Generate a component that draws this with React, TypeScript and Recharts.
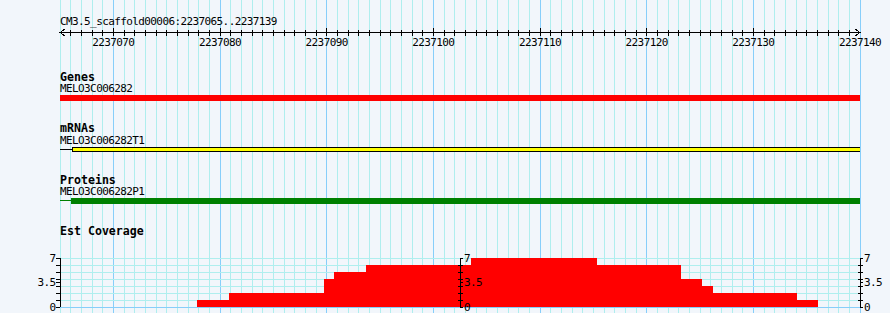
import React from 'react';
import { ComposedChart, BarChart, Bar, Area, Line, XAxis, YAxis, ReferenceLine } from 'recharts';

const W = 890;
const H = 313;
const VIEW_START = 2237065;
const VIEW_END = 2237140;
const DOMAIN: [number, number] = [VIEW_START, VIEW_END];
const VIEW_LABEL = 'CM3.5_scaffold00006:2237065..2237139';

const rulerTicks = Array.from({ length: VIEW_END - VIEW_START + 1 }, (_, i) => VIEW_START + i);
const majorTicks = rulerTicks.filter((v) => v % 10 === 0);
const minorTicks = rulerTicks.filter((v) => v % 10 !== 0);

const trackTitles = ['Genes', 'mRNAs', 'Proteins', 'Est Coverage'];
const featureNames = ['MELO3C006282', 'MELO3C006282T1', 'MELO3C006282P1'];

const geneRange = [2237065, 2237140];
const mrnaLead = [2237065, 2237066.2];
const mrnaExon = [2237066.2, 2237140];
const proteinLead = [2237065, 2237066];
const proteinCds = [2237066, 2237140];

const covStart = [
  2237077.85, 2237080.85, 2237089.75, 2237090.7, 2237093.7, 2237103.55,
  2237115.35, 2237123.2, 2237125.2, 2237126.2, 2237134.1, 2237136.05,
];
const covValue = [1, 2, 4, 5, 6, 7, 6, 4, 3, 2, 1, 0];
const covTicks = [0, 1, 2, 3, 3.5, 4, 5, 6, 7];
const covLabels = [0, 3.5, 7];
const covGrid = [0, 1, 2, 3, 4, 5, 6, 7];

const covData = covStart.map((x, i) => ({ x, v: covValue[i] }));

const BG = '#f2f6fb';
const MINOR = '#afeeee';
const MAJOR = '#87cefa';
const FONT = '"DejaVu Sans Mono", monospace';

const txt = { fontFamily: FONT, fontSize: 11, letterSpacing: -0.6, fill: '#000' } as const;
const boldTxt = { fontFamily: FONT, fontSize: 11.6, fontWeight: 700, fill: '#000' } as const;

const RulerTick = (props: any) => {
  const { x, y, payload } = props;
  const v = payload.value;
  const major = v % 10 === 0;
  const first = v === VIEW_START;
  const last = v === VIEW_END;
  return (
    <g>
      {!first && !last && (
        <line x1={x} x2={x} y1={y - (major ? 4.5 : 2.5)} y2={y + 3} stroke="#000" />
      )}
      {first && (
        <polyline points={`${x + 5},${y - 3.5} ${x},${y} ${x + 5},${y + 3.5}`} fill="none" stroke="#000" />
      )}
      {last && (
        <polyline points={`${x - 5},${y - 3.5} ${x},${y} ${x - 5},${y + 3.5}`} fill="none" stroke="#000" />
      )}
      {major && (
        <text x={x} y={y + 13.5} textAnchor="middle" style={txt}>
          {v}
        </text>
      )}
    </g>
  );
};

const LeftTick = (props: any) => {
  const { x, y, payload } = props;
  const v = payload.value;
  return (
    <g>
      <line x1={x - 4} x2={x} y1={y} y2={y} stroke="#000" />
      {covLabels.includes(v) && (
        <text x={x - 4.5} y={y + 3.8} textAnchor="end" style={txt}>
          {v}
        </text>
      )}
    </g>
  );
};

const RightTick = (props: any) => {
  const { x, y, payload } = props;
  const v = payload.value;
  const labeled = covLabels.includes(v);
  return (
    <g>
      <line x1={labeled ? x : x - 2} x2={x + 3} y1={y} y2={y} stroke="#000" />
      {labeled && (
        <text x={x + 4} y={y + 3.8} textAnchor="start" style={txt}>
          {v}
        </text>
      )}
    </g>
  );
};

function Track({ top, height, range, fill, stroke, inset = 0 }: any) {
  const data = [{ name: 't', range }];
  return (
    <div style={{ position: 'absolute', left: 0, top }}>
      <BarChart
        width={W}
        height={height}
        data={data}
        layout="vertical"
        margin={{ top: inset, right: 30, bottom: inset, left: 60 }}
        barCategoryGap={0}
        barGap={0}
      >
        <XAxis type="number" domain={DOMAIN} hide allowDataOverflow />
        <YAxis type="category" dataKey="name" hide />
        <Bar dataKey="range" fill={fill} stroke={stroke || 'none'} isAnimationActive={false} />
      </BarChart>
    </div>
  );
}

export default function App() {
  return (
    <div
      style={{
        position: 'absolute',
        left: 0,
        top: 0,
        width: W,
        height: H,
        background: BG,
        overflow: 'hidden',
        shapeRendering: 'crispEdges',
      }}
    >
      {/* vertical grid */}
      <div style={{ position: 'absolute', left: 0, top: 0 }}>
        <ComposedChart width={W} height={H} data={covData} margin={{ top: 0, right: 30, bottom: 0, left: 60 }}>
          <XAxis type="number" dataKey="x" domain={DOMAIN} hide allowDataOverflow />
          <YAxis hide domain={[0, 7]} allowDataOverflow />
          {minorTicks.map((v) => (
            <ReferenceLine key={'m' + v} x={v} stroke={MINOR} strokeWidth={1} />
          ))}
          {majorTicks.map((v) => (
            <ReferenceLine key={'M' + v} x={v} stroke={MAJOR} strokeWidth={1} />
          ))}
          <Line dataKey="v" stroke="none" dot={false} activeDot={false} isAnimationActive={false} />
        </ComposedChart>
      </div>

      {/* coverage horizontal grid */}
      <div style={{ position: 'absolute', left: 0, top: 250 }}>
        <ComposedChart width={W} height={63} data={covData} margin={{ top: 8, right: 30, bottom: 6, left: 60 }}>
          <XAxis type="number" dataKey="x" domain={DOMAIN} hide allowDataOverflow />
          <YAxis hide domain={[0, 7]} allowDataOverflow />
          {covGrid.map((v) => (
            <ReferenceLine key={'h' + v} y={v} stroke={v === 0 ? MAJOR : MINOR} strokeWidth={1} />
          ))}
        </ComposedChart>
      </div>

      {/* ruler */}
      <div style={{ position: 'absolute', left: 0, top: 0 }}>
        <ComposedChart width={W} height={50} data={covData} margin={{ top: 0.5, right: 30, bottom: 0, left: 60 }}>
          <XAxis
            type="number"
            dataKey="x"
            domain={DOMAIN}
            allowDataOverflow
            ticks={rulerTicks}
            interval={0}
            tickSize={0}
            tickMargin={0}
            tickLine={false}
            axisLine={{ stroke: '#000' }}
            height={17.5}
            tick={<RulerTick />}
          />
          <YAxis hide domain={[0, 1]} />
        </ComposedChart>
      </div>

      {/* feature tracks */}
      <Track top={95} height={6} range={geneRange} fill="#ff0000" />
      <Track top={149} height={1} range={mrnaLead} fill="#000000" />
      <Track top={147} height={5} range={mrnaExon} fill="#ffff00" stroke="#000000" inset={0.5} />
      <Track top={200} height={1} range={proteinLead} fill="#008000" />
      <Track top={198} height={6} range={proteinCds} fill="#008000" />

      {/* coverage */}
      <div style={{ position: 'absolute', left: 0, top: 250 }}>
        <ComposedChart width={W} height={63} data={covData} margin={{ top: 8, right: 0, bottom: 6, left: 0 }}>
          <XAxis type="number" dataKey="x" domain={DOMAIN} hide allowDataOverflow />
          <YAxis
            yAxisId="l"
            orientation="left"
            width={60}
            domain={[0, 7]}
            ticks={covTicks}
            interval={0}
            tickSize={0}
            tickMargin={0}
            tickLine={false}
            axisLine={{ stroke: '#000' }}
            tick={<LeftTick />}
          />
          <YAxis
            yAxisId="r"
            orientation="right"
            width={30}
            domain={[0, 7]}
            ticks={covTicks}
            interval={0}
            tickSize={0}
            tickMargin={0}
            tickLine={false}
            axisLine={{ stroke: '#000' }}
            tick={<RightTick />}
          />
          <Area
            yAxisId="l"
            type="stepAfter"
            dataKey="v"
            fill="#ff0000"
            fillOpacity={1}
            stroke="none"
            isAnimationActive={false}
          />
          <Line yAxisId="r" dataKey="v" stroke="none" dot={false} activeDot={false} isAnimationActive={false} />
        </ComposedChart>
      </div>

      {/* middle coverage axis */}
      <div style={{ position: 'absolute', left: 0, top: 250 }}>
        <ComposedChart width={490} height={63} data={covData} margin={{ top: 8, right: 0, bottom: 6, left: 0 }}>
          <XAxis type="number" dataKey="x" domain={DOMAIN} hide allowDataOverflow />
          <YAxis
            orientation="right"
            width={30}
            domain={[0, 7]}
            ticks={covTicks}
            interval={0}
            tickSize={0}
            tickMargin={0}
            tickLine={false}
            axisLine={{ stroke: '#000' }}
            tick={<RightTick />}
          />
          <Line dataKey="v" stroke="none" dot={false} activeDot={false} isAnimationActive={false} />
        </ComposedChart>
      </div>

      {/* labels */}
      <svg width={W} height={H} style={{ position: 'absolute', left: 0, top: 0, pointerEvents: 'none' }}>
        <text x={60} y={25.2} style={txt}>
          {VIEW_LABEL}
        </text>
        <text x={60} y={80.6} style={boldTxt}>{trackTitles[0]}</text>
        <text x={60} y={91.7} style={txt}>{featureNames[0]}</text>
        <text x={60} y={132.2} style={boldTxt}>{trackTitles[1]}</text>
        <text x={60} y={144.2} style={txt}>{featureNames[1]}</text>
        <text x={60} y={183.7} style={boldTxt}>{trackTitles[2]}</text>
        <text x={60} y={195.2} style={txt}>{featureNames[2]}</text>
        <text x={60} y={235.2} style={boldTxt}>{trackTitles[3]}</text>
      </svg>
    </div>
  );
}
